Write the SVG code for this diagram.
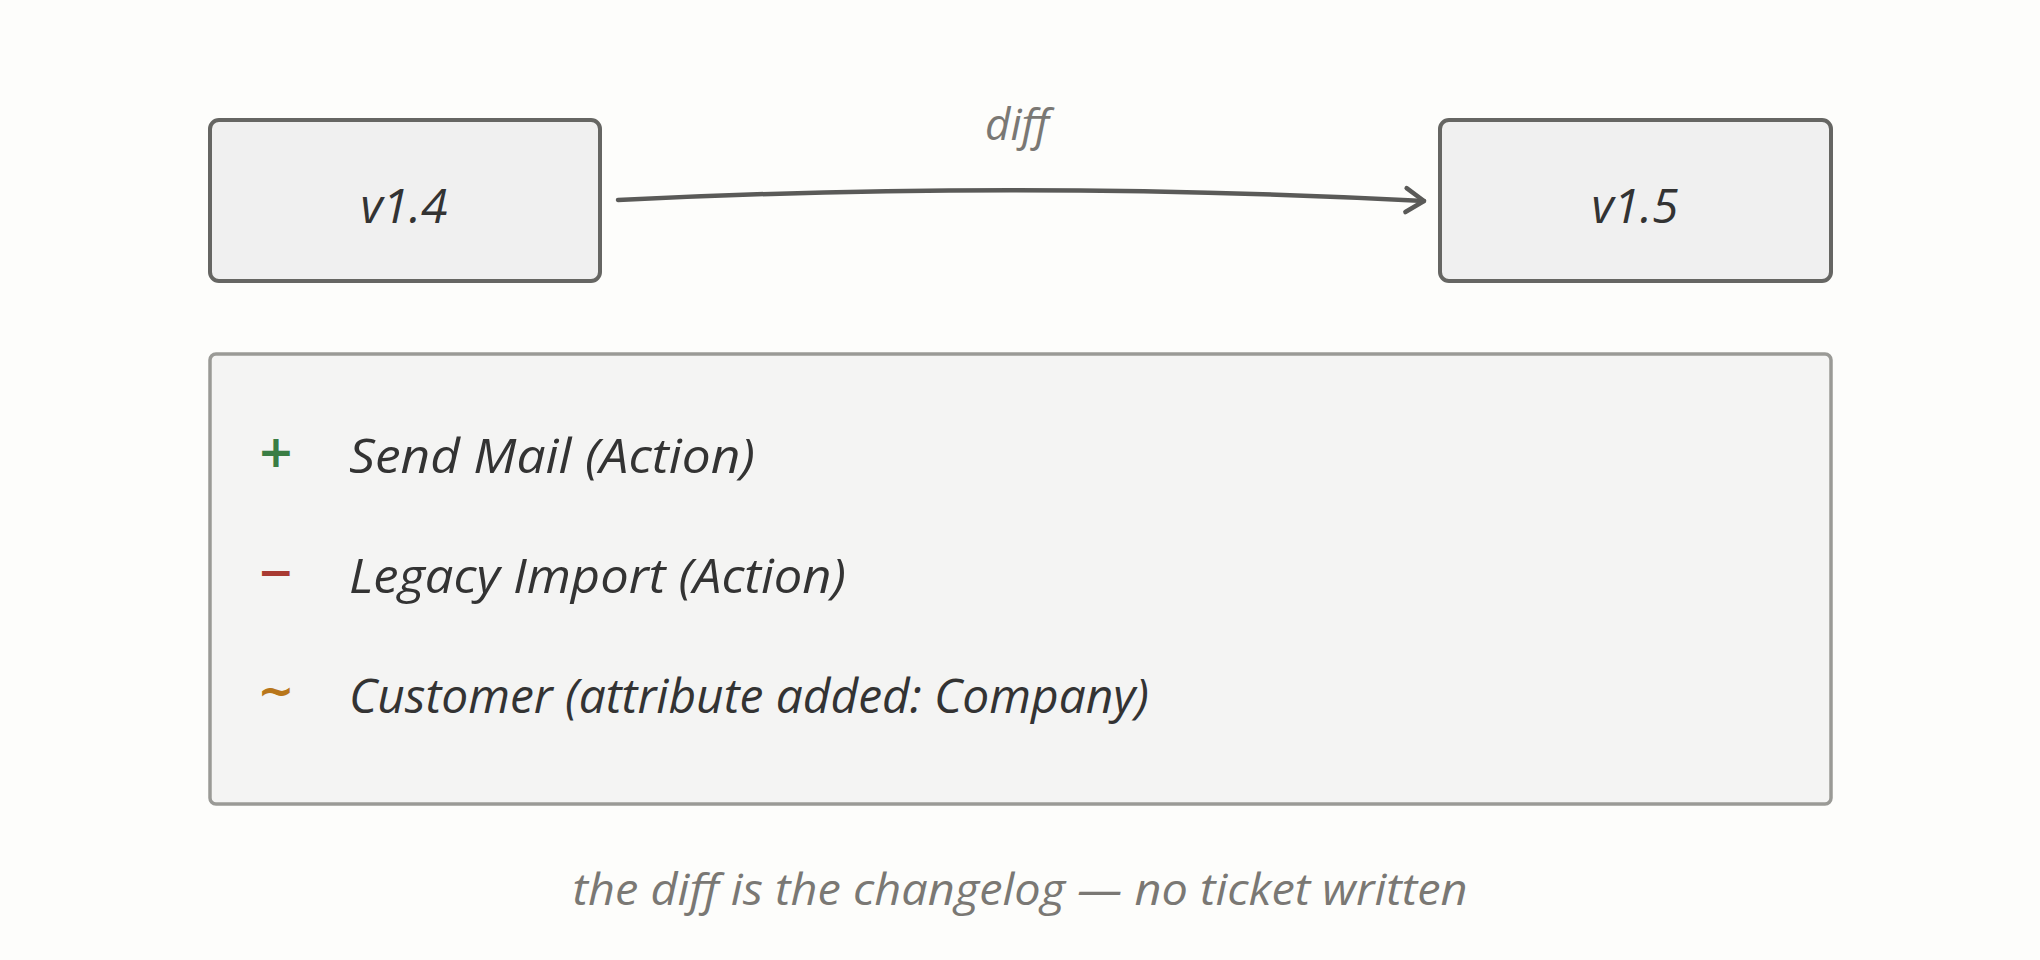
<svg xmlns="http://www.w3.org/2000/svg" width="2040" height="960" viewBox="0 0 2040 960">
<style>
.node{fill:#f0f0f0;stroke:#666663;stroke-width:4}
.panel{fill:#f4f4f3;stroke:#9a9a96;stroke-width:3.5}
.lbl{font-family:"Open Sans","Liberation Sans",sans-serif;font-style:italic;fill:#333}
.gray{font-family:"Open Sans","Liberation Sans",sans-serif;font-style:italic;fill:#7a7874}
.edge{fill:none;stroke:#5a5a58;stroke-width:4.5;stroke-linecap:round}
.sym{font-family:"DejaVu Sans",sans-serif;font-weight:bold}
</style>
<defs>
<marker id="arr" markerUnits="userSpaceOnUse" markerWidth="36" markerHeight="36" refX="30" refY="18" orient="auto">
<path d="M12,6 L30,18 L12,30" fill="none" stroke="#5a5a58" stroke-width="4.5" stroke-linecap="round" stroke-linejoin="round"/>
</marker>
</defs>
<rect width="2040" height="960" fill="#fdfdfb"/>
<g id="node-v14">
<rect class="node" x="210" y="120" width="390" height="161" rx="9"/>
<text class="lbl" x="404" y="223" font-size="48" text-anchor="middle">v1.4</text>
</g>
<g id="node-v15">
<rect class="node" x="1440" y="120" width="391" height="161" rx="9"/>
<text class="lbl" x="1635" y="223" font-size="48" text-anchor="middle">v1.5</text>
</g>
<g id="connectors">
<path class="edge" d="M618,200 Q1020,180 1424,201" marker-end="url(#arr)"/>
<text class="gray" x="1017" y="140" font-size="44" text-anchor="middle">diff</text>
</g>
<g id="node-changes">
<rect class="panel" x="210" y="354" width="1621" height="450" rx="6"/>
<text class="sym" x="276" y="467" font-size="44" fill="#3a7d44" text-anchor="middle">+</text>
<text class="lbl" x="349" y="473" font-size="48" textLength="406" lengthAdjust="spacingAndGlyphs">Send Mail (Action)</text>
<text class="sym" x="276" y="587" font-size="44" fill="#a83a32" text-anchor="middle">−</text>
<text class="lbl" x="349" y="593" font-size="48" textLength="497" lengthAdjust="spacingAndGlyphs">Legacy Import (Action)</text>
<text class="sym" x="276" y="706" font-size="44" fill="#b8761a" text-anchor="middle">~</text>
<text class="lbl" x="349" y="713" font-size="48" textLength="800" lengthAdjust="spacingAndGlyphs">Customer (attribute added: Company)</text>
</g>
<g id="caption">
<text class="gray" x="1020" y="905" font-size="44" text-anchor="middle" textLength="895" lengthAdjust="spacingAndGlyphs">the diff is the changelog — no ticket written</text>
</g>
</svg>
